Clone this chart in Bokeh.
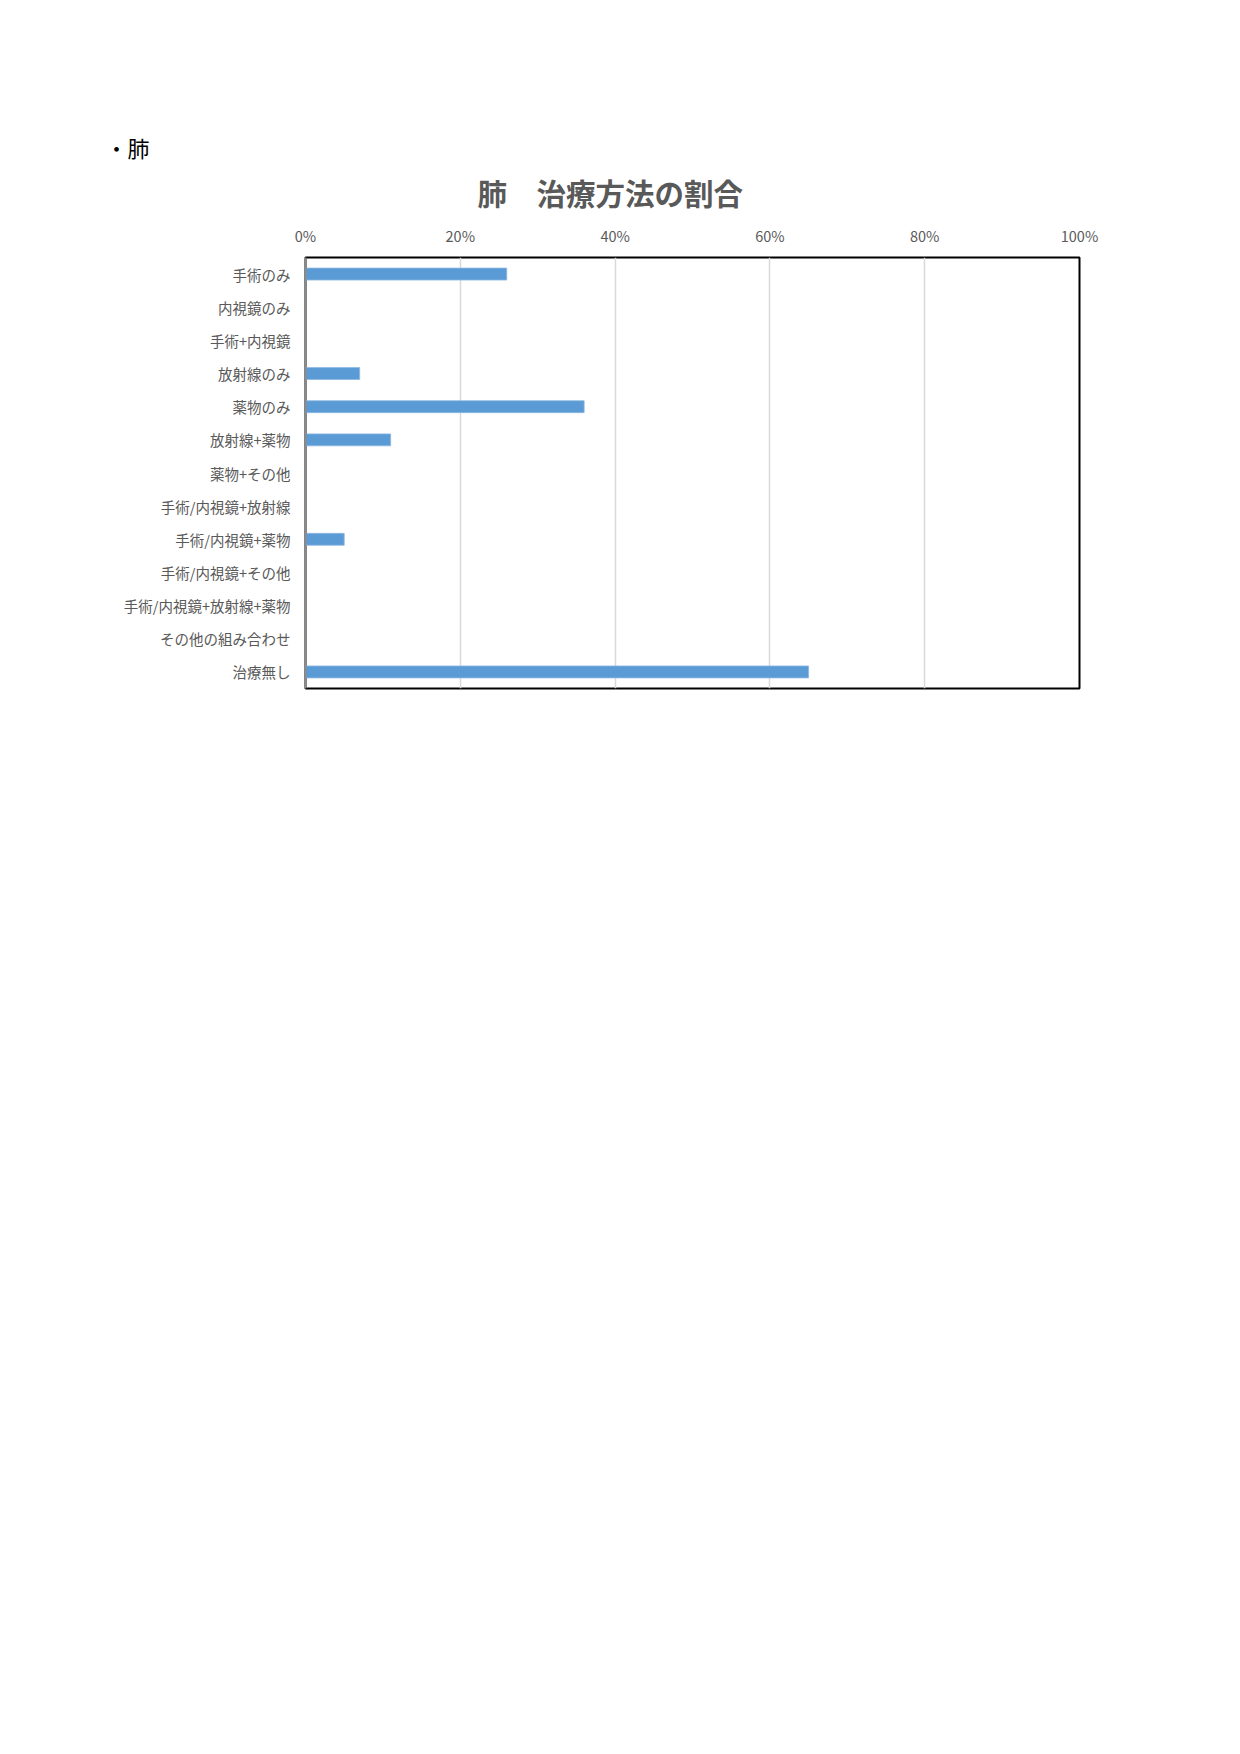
from bokeh.plotting import figure
from bokeh.models import FactorRange, Range1d, FixedTicker, Title
from bokeh.embed import file_html
from bokeh.resources import INLINE

categories = ["手術のみ", "内視鏡のみ", "手術+内視鏡", "放射線のみ", "薬物のみ", "放射線+薬物",
              "薬物+その他", "手術/内視鏡+放射線", "手術/内視鏡+薬物", "手術/内視鏡+その他",
              "手術/内視鏡+放射線+薬物", "その他の組み合わせ", "治療無し"]
values = [0.26, 0.0, 0.0, 0.07, 0.36, 0.11, 0.0, 0.0, 0.05, 0.0, 0.0, 0.0, 0.65]
tick_values = [0, 0.2, 0.4, 0.6, 0.8, 1.0]
tick_labels = ["0%", "20%", "40%", "60%", "80%", "100%"]
chart_title = "肺　治療方法の割合"
section_heading = "・肺"

FONT = "Noto Sans CJK JP"

p = figure(
    y_range=FactorRange(factors=list(reversed(categories))),
    x_range=Range1d(0, 1),
    x_axis_location="above",
    frame_width=774, frame_height=431,
    min_border_left=305, min_border_right=100,
    min_border_top=257, min_border_bottom=40,
    output_backend="svg", toolbar_location=None,
    background_fill_color="white", border_fill_color="white",
)

p.hbar(y=categories, right=values, left=0, height=0.36,
       fill_color="#5B9BD5", line_color="#8DB8E2", line_width=0.8)

# x axis (top)
xa = p.xaxis[0]
xa.ticker = FixedTicker(ticks=tick_values)
xa.major_label_overrides = {v: l for v, l in zip(tick_values, tick_labels)}
xa.axis_line_color = None
xa.major_tick_line_color = None
xa.major_tick_out = 0
xa.major_tick_in = 0
xa.minor_tick_line_color = None
xa.major_label_standoff = 12
xa.major_label_text_font = FONT
xa.major_label_text_font_size = "14.5px"
xa.major_label_text_color = "#595959"

# y axis
ya = p.yaxis[0]
ya.axis_line_color = "#8C8C8C"
ya.axis_line_width = 2
ya.major_tick_line_color = None
ya.major_tick_out = 0
ya.major_tick_in = 0
ya.minor_tick_line_color = None
ya.major_label_standoff = 15
ya.major_label_text_font = FONT
ya.major_label_text_font_size = "14.5px"
ya.major_label_text_color = "#595959"

p.xgrid.grid_line_color = "#D9D9D9"
p.xgrid.grid_line_width = 1.5
p.ygrid.grid_line_color = None

p.outline_line_color = "black"
p.outline_line_width = 2
p.outline_line_alpha = 1

# small spacer between the axis labels and the chart title
p.add_layout(Title(text=" ", text_font_size="1px", standoff=0), "above")
p.add_layout(Title(text=chart_title, align="left", offset=172, standoff=12,
                   text_font=FONT, text_font_size="29.5px", text_font_style="bold",
                   text_color="#595959"), "above")
p.add_layout(Title(text=section_heading, align="left", offset=-200, standoff=0,
                   text_font=FONT, text_font_size="22px", text_font_style="normal",
                   text_color="black"), "above")

open("out.html", "w").write(file_html(p, INLINE))
